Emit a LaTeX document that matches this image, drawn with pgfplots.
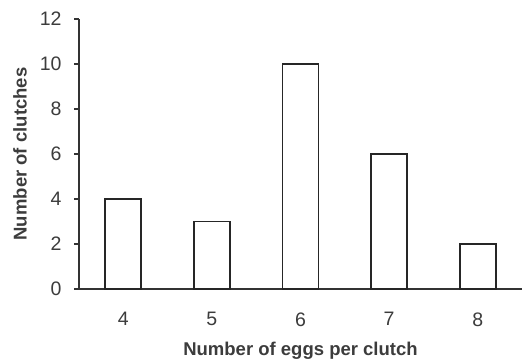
\documentclass[border=0pt]{standalone}
\usepackage{fontspec}
\setmainfont{Liberation Sans}
\usepackage{pgfplots}
\pgfplotsset{compat=1.18}
\definecolor{txt}{HTML}{3C3C3C}
\definecolor{axc}{HTML}{333333}
\begin{document}
\begin{tikzpicture}
\begin{axis}[name=ax, scale only axis, width=443pt, height=270pt,
  xmin=3.5, xmax=8.5, ymin=0, ymax=12,
  axis x line=bottom, axis y line=left,
  axis line style={-, axc, line width=1.6pt},
  xtick={4,5,6,7,8}, ytick={0,2,...,12},
  x tick style={draw=none},
  y tick style={axc, line width=1.6pt},
  tick align=outside, major tick length=5pt,
  ticklabel style={font=\fontsize{19.5}{22}\selectfont, text=txt},
  /pgf/number format/assume math mode=true,
  xticklabel style={yshift=-15pt},
  yticklabel style={xshift=-9pt},
  xlabel={Number of eggs per clutch},
  ylabel={Number of clutches},
  label style={font=\bfseries\fontsize{18.5}{22}\selectfont, text=txt},
  xlabel style={at={(axis description cs:0.5,-0.23)}, anchor=center},
  ylabel style={at={(axis description cs:-0.133,0.5)}, anchor=center},
]
\addplot[ybar, bar width=36pt, draw=black!85, line width=1.8pt, fill=white]
  coordinates {(4,4) (5,3) (6,10) (7,6) (8,2)};
\end{axis}
\pgfresetboundingbox
\path ([xshift=-79pt,yshift=-71pt]ax.south west) rectangle ([xshift=5pt,yshift=19pt]ax.north east);
\end{tikzpicture}
\end{document}
